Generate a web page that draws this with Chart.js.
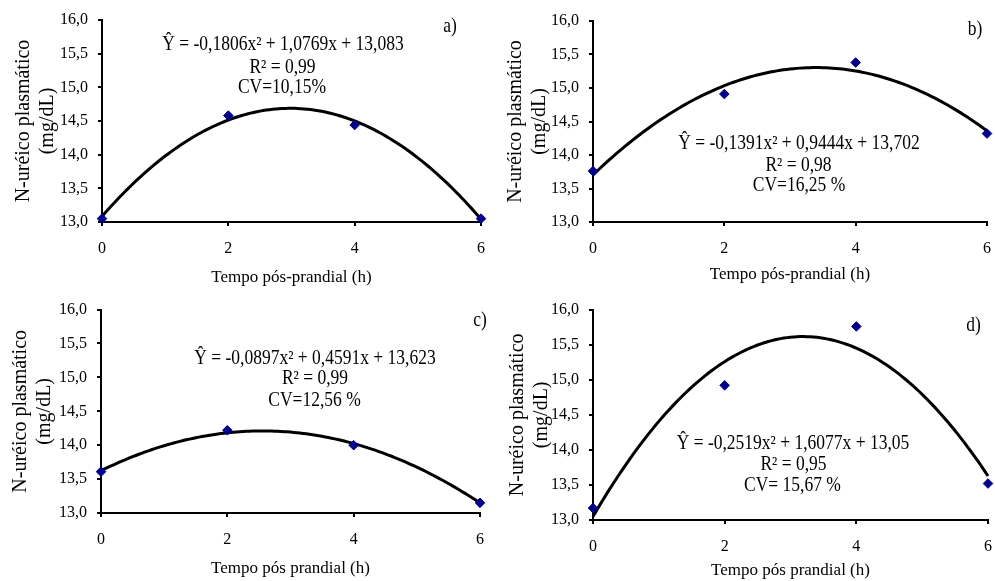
<!DOCTYPE html>
<html>
<head>
<meta charset="utf-8">
<script src="https://cdn.jsdelivr.net/npm/chart.js@4/dist/chart.umd.min.js"></script>
<style>
  html, body { margin: 0; padding: 0; background: #fff; }
  body { width: 995px; height: 581px; position: relative; overflow: hidden; }
  canvas { position: absolute; }
</style>
</head>
<body>
<canvas id="pa" width="497" height="290" style="left:0px;top:0px"></canvas>
<canvas id="pb" width="500" height="290" style="left:495px;top:0px"></canvas>
<canvas id="pc" width="497" height="291" style="left:0px;top:290px"></canvas>
<canvas id="pd" width="500" height="291" style="left:495px;top:290px"></canvas>
<script>
// ---- data ----
const hours = [0, 2, 4, 6];
const ureaA = [13.05, 14.58, 14.44, 13.05];
const ureaB = [13.76, 14.91, 15.38, 14.32];
const ureaC = [13.61, 14.22, 14.00, 13.15];
const ureaD = [13.17, 14.92, 15.76, 13.52];

// regression coefficients printed on each panel: [a, b, c] for a*x^2 + b*x + c
const fitA = [-0.1806, 1.0769, 13.083];
const fitB = [-0.1391, 0.9444, 13.702];
const fitC = [-0.0897, 0.4591, 13.623];
const fitD = [-0.2519, 1.6077, 13.05];

const eqTexts = [
  'Ŷ = -0,1806x² + 1,0769x + 13,083',
  'Ŷ = -0,1391x² + 0,9444x + 13,702',
  'Ŷ = -0,0897x² + 0,4591x + 13,623',
  'Ŷ = -0,2519x² + 1,6077x + 13,05'
];
const r2Texts = ['R² = 0,99', 'R² = 0,98', 'R² = 0,99', 'R² = 0,95'];
const cvTexts = ['CV=10,15%', 'CV=16,25 %', 'CV=12,56 %', 'CV= 15,67 %'];
const panelLetters = ['a)', 'b)', 'c)', 'd)'];
const xTitles = ['Tempo pós-prandial (h)', 'Tempo pós-prandial (h)', 'Tempo pós prandial (h)', 'Tempo pós prandial (h)'];
const yTitle = ['N-uréico plasmático', '(mg/dL)'];
const xTicks = [0, 2, 4, 6];
const yTickMin = 13, yTickMax = 16, yTickStep = 0.5;

// ---- layout (pixels, canvas-relative) ----
const FONT = "'Liberation Serif', 'Times New Roman', serif";
const layouts = [
  { id: 'pa', area: {l: 102, r: 481, t: 20, b: 222}, pad: {left: 0, top: 20, right: 16, bottom: 2}, yW: 102, xH: 66, yTitlePad: 12,
    eq: [283, 45], r2: [282.5, 67.5], cv: [282, 87.5], letter: [450, 27] },
  { id: 'pb', area: {l: 98, r: 492, t: 21, b: 222}, pad: {left: 0, top: 21, right: 8, bottom: 5}, yW: 98, xH: 63, yTitlePad: 9,
    eq: [304, 144], r2: [303.5, 165.5], cv: [304, 186], letter: [480, 29.5] },
  { id: 'pc', area: {l: 101, r: 480, t: 17, b: 223}, pad: {left: 0, top: 17, right: 17, bottom: 2}, yW: 101, xH: 66, yTitlePad: 9,
    eq: [315, 69], r2: [315, 89], cv: [314.5, 111], letter: [480, 31] },
  { id: 'pd', area: {l: 98, r: 495, t: 18, b: 230}, pad: {left: 0, top: 18, right: 5, bottom: 0}, yW: 98, xH: 61, yTitlePad: 11,
    eq: [298, 154], r2: [298.5, 175], cv: [297.5, 196], letter: [478.5, 36] }
];

const seriesList = [ureaA, ureaB, ureaC, ureaD];
const fitList = [fitA, fitB, fitC, fitD];

function trendPoints(coef) {
  const pts = [];
  const n = 120;
  for (let i = 0; i <= n; i++) {
    const x = hours[0] + (hours[hours.length - 1] - hours[0]) * i / n;
    pts.push({x: x, y: coef[0] * x * x + coef[1] * x + coef[2]});
  }
  return pts;
}

const textPlugin = {
  id: 'panelText',
  afterDraw(chart, args, opts) {
    const ctx = chart.ctx;
    for (const it of opts.items || []) {
      ctx.save();
      ctx.fillStyle = '#000';
      ctx.textAlign = 'center';
      ctx.textBaseline = 'middle';
      ctx.font = it.size + 'px ' + FONT;
      ctx.translate(it.x, it.y);
      ctx.scale(1, 1.15);
      ctx.fillText(it.text, 0, 0);
      ctx.restore();
    }
  }
};

layouts.forEach((L, i) => {
  const data = seriesList[i];
  const chart = new Chart(document.getElementById(L.id), {
    type: 'scatter',
    data: {
      datasets: [
        {
          data: hours.map((h, k) => ({x: h, y: data[k]})),
          pointStyle: 'rectRot',
          pointRadius: 4.8,
          pointBackgroundColor: '#00008b',
          pointBorderColor: '#00008b',
          pointBorderWidth: 1,
          showLine: false,
          clip: false
        },
        {
          data: trendPoints(fitList[i]),
          showLine: true,
          borderColor: '#000',
          borderWidth: 3,
          pointRadius: 0,
          tension: 0,
          clip: false
        }
      ]
    },
    options: {
      responsive: false,
      animation: false,
      devicePixelRatio: 1,
      layout: { padding: Object.assign({}, L.pad) },
      plugins: {
        legend: { display: false },
        tooltip: { enabled: false },
        panelText: {
          items: [
            {text: eqTexts[i], x: L.eq[0], y: L.eq[1], size: 17.5},
            {text: r2Texts[i], x: L.r2[0], y: L.r2[1], size: 17.5},
            {text: cvTexts[i], x: L.cv[0], y: L.cv[1], size: 17.5},
            {text: panelLetters[i], x: L.letter[0], y: L.letter[1], size: 17.5}
          ]
        }
      },
      scales: {
        x: {
          type: 'linear',
          min: xTicks[0],
          max: xTicks[xTicks.length - 1],
          afterFit: (s) => { s.height = L.xH; },
          afterBuildTicks: (s) => { s.ticks = xTicks.map(v => ({value: v})); },
          grid: { drawOnChartArea: false, drawTicks: true, tickLength: 4, color: '#000', lineWidth: 2 },
          border: { display: true, color: '#000', width: 2 },
          ticks: { color: '#000', padding: 3, maxRotation: 0, font: { family: FONT, size: 16, lineHeight: 2.5 } },
          title: { display: true, text: xTitles[i], color: '#000', padding: {top: 0, bottom: 0},
                   font: { family: FONT, size: 17 } }
        },
        y: {
          type: 'linear',
          min: yTickMin,
          max: yTickMax,
          afterFit: (s) => { s.width = L.yW; },
          grid: { drawOnChartArea: false, drawTicks: true, tickLength: 4, color: '#000', lineWidth: 2 },
          border: { display: true, color: '#000', width: 2 },
          ticks: {
            stepSize: yTickStep, color: '#000', padding: 10,
            font: { family: FONT, size: 16 },
            callback: (v) => v.toFixed(1).replace('.', ',')
          },
          title: { display: true, text: yTitle, color: '#000', padding: {top: L.yTitlePad, bottom: 0},
                   font: { family: FONT, size: 20, lineHeight: 1.2 } }
        }
      }
    },
    plugins: [textPlugin]
  });
  // nudge the layout padding so that the plot area lands where the reference has it
  for (let k = 0; k < 3; k++) {
    const ca = chart.chartArea;
    const p = chart.config.options.layout.padding;
    const dl = L.area.l - ca.left, dr = ca.right - L.area.r, dt = L.area.t - ca.top, db = ca.bottom - L.area.b;
    if (Math.abs(dl) < 0.5 && Math.abs(dr) < 0.5 && Math.abs(dt) < 0.5 && Math.abs(db) < 0.5) break;
    chart.config.options.layout.padding = {
      left: p.left + dl, right: p.right + dr, top: p.top + dt, bottom: p.bottom + db
    };
    chart.update();
  }
});
</script>
</body>
</html>
